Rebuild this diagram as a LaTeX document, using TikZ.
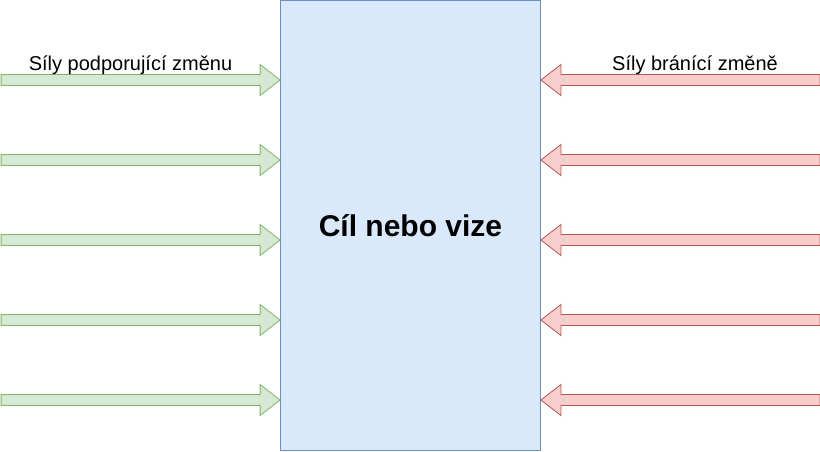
\documentclass[tikz,border=0pt]{standalone}
\usepackage{fontspec}
\setmainfont{Liberation Sans}
\usepackage{tikz}
\usetikzlibrary{calc}
\definecolor{profill}{HTML}{D5E8D4}
\definecolor{prodraw}{HTML}{82B366}
\definecolor{confill}{HTML}{F8CECC}
\definecolor{condraw}{HTML}{B85450}
\definecolor{goalfill}{HTML}{DAE8FC}
\definecolor{goaldraw}{HTML}{6C8EBF}
\tikzset{
  pro/.style={fill=profill,draw=prodraw,line width=0.8pt,line join=miter},
  con/.style={fill=confill,draw=condraw,line width=0.8pt,line join=miter},
  goalbox/.style={rectangle,fill=goalfill,draw=goaldraw,line width=0.8pt,
    minimum width=260pt,minimum height=450pt,inner sep=0pt,
    font=\fontsize{30}{36}\selectfont\bfseries},
  forcelbl/.style={anchor=base,inner sep=0pt,font=\fontsize{20}{24}\selectfont}
}

\begin{document}
\begin{tikzpicture}[x=1pt,y=-1pt]
\useasboundingbox (0,0) rectangle (820,451);
\node[goalbox] (goal) at (410.5,225.5) {Cíl nebo vize};
% forces pushing the change
\foreach \y in {80,160,240,320,400}
  \draw[pro] (goal.west |- 0,\y) -- ++(-20,-15.5) -- ++(0,10) -- ++(-259,0)
    -- ++(0,11) -- ++(259,0) -- ++(0,10) -- cycle;
% forces holding it back
\foreach \y in {80,160,240,320,400}
  \draw[con] (goal.east |- 0,\y) -- ++(20,-15.5) -- ++(0,10) -- ++(259,0)
    -- ++(0,11) -- ++(-259,0) -- ++(0,10) -- cycle;
\node[forcelbl] (prolbl) at (130.5,70) {Síly podporující změnu};
\node[forcelbl] (conlbl) at (695,70) {Síly bránící změně};
\end{tikzpicture}
\end{document}
